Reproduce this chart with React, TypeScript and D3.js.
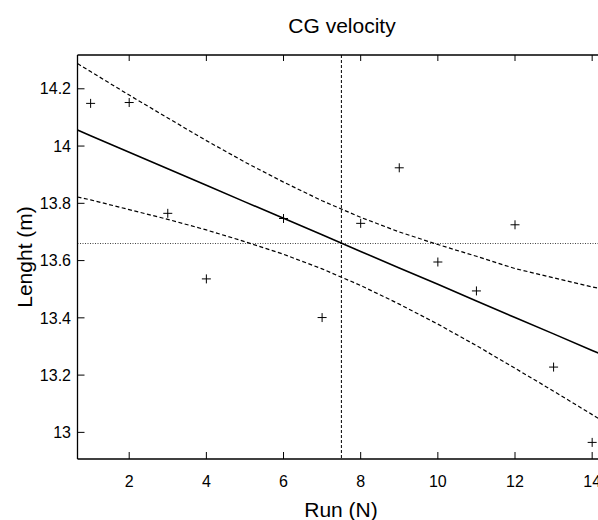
import React from "react";
import * as d3 from "d3";

// Data
const runs = [1, 2, 3, 4, 6, 7, 8, 9, 10, 11, 12, 13, 14];
const lengths = [14.149, 14.152, 13.765, 13.536, 13.747, 13.401, 13.73, 13.924, 13.595, 13.494, 13.725, 13.228, 12.965];

const fitX = [0.66, 1, 2, 3, 4, 5, 6, 7, 8, 9, 10, 11, 12, 13, 14, 14.4];
const fitY = [14.056, 14.036, 13.978, 13.921, 13.863, 13.805, 13.748, 13.69, 13.632, 13.574, 13.517, 13.459, 13.401, 13.344, 13.286, 13.263];
const upperY = [14.288, 14.26, 14.178, 14.098, 14.019, 13.944, 13.874, 13.809, 13.751, 13.7, 13.656, 13.615, 13.572, 13.54, 13.508, 13.497];
const lowerY = [13.822, 13.812, 13.778, 13.744, 13.707, 13.666, 13.622, 13.571, 13.513, 13.448, 13.378, 13.303, 13.224, 13.144, 13.062, 13.029];

const meanRun = 7.5;
const meanLength = 13.661;

const xTicks = [2, 4, 6, 8, 10, 12, 14];
const yTicks = [13, 13.2, 13.4, 13.6, 13.8, 14, 14.2];
const xDomain = [0.66, 14.4];
const yDomain = [12.907, 14.318];

const title = "CG velocity";
const xLabel = "Run (N)";
const yLabel = "Lenght (m)";

export default function App() {
  const W = 598;
  const H = 520;
  const left = 77.5;
  const right = 607.6;
  const top = 55;
  const bottom = 459;
  const font = "'Liberation Sans', Arial, Helvetica, sans-serif";

  const x = d3.scaleLinear().domain(xDomain).range([left, right]);
  const y = d3.scaleLinear().domain(yDomain).range([bottom, top]);

  const line = d3
    .line<number>()
    .x((_, i) => x(fitX[i]))
    .y((d) => y(d));

  const fmt = (v: number) => d3.format("")(+v.toFixed(1));
  const cs = 4.5;
  const yMean = Math.round(y(meanLength)) + 0.5;

  return (
    <svg
      width={W}
      height={H}
      style={{ position: "absolute", left: 0, top: 0, background: "#fff" }}
      fontFamily={font}
    >
      <defs>
        <clipPath id="plotclip">
          <rect x={left} y={top} width={right - left} height={bottom - top} />
        </clipPath>
      </defs>
      <rect x={0} y={0} width={W} height={H} fill="#fff" />

      <g clipPath="url(#plotclip)">
        {/* mean lines */}
        <line
          x1={left}
          x2={right}
          y1={yMean}
          y2={yMean}
          stroke="#444"
          strokeWidth={1}
          strokeDasharray="1,1.5"
        />
        <line
          x1={x(meanRun)}
          x2={x(meanRun)}
          y1={top}
          y2={bottom}
          stroke="#000"
          strokeWidth={1}
          strokeDasharray="3,2"
        />
        {/* confidence bands */}
        <path d={line(upperY) || ""} fill="none" stroke="#000" strokeWidth={1.2} strokeDasharray="4,2.5" />
        <path d={line(lowerY) || ""} fill="none" stroke="#000" strokeWidth={1.2} strokeDasharray="4,2.5" />
        {/* fit */}
        <path d={line(fitY) || ""} fill="none" stroke="#000" strokeWidth={1.6} />
      </g>

      {/* points */}
      {runs.map((r, i) => {
        const px = x(r);
        const py = y(lengths[i]);
        return (
          <g key={i} stroke="#000" strokeWidth={1}>
            <line x1={px - cs} x2={px + cs} y1={py} y2={py} />
            <line x1={px} x2={px} y1={py - cs} y2={py + cs} />
          </g>
        );
      })}

      {/* frame */}
      <line x1={left} x2={right} y1={top} y2={top} stroke="#000" strokeWidth={1.3} />
      <line x1={left} x2={right} y1={bottom} y2={bottom} stroke="#000" strokeWidth={1.3} />
      <line x1={left} x2={left} y1={top} y2={bottom} stroke="#000" strokeWidth={1.3} />

      {/* x ticks */}
      {xTicks.map((t) => (
        <g key={"x" + t}>
          <line x1={x(t)} x2={x(t)} y1={bottom} y2={bottom - 7} stroke="#000" strokeWidth={1} />
          <line x1={x(t)} x2={x(t)} y1={top} y2={top + 6} stroke="#000" strokeWidth={1} />
          <text x={x(t)} y={486.5} textAnchor="middle" fontSize={16} fill="#000">
            {fmt(t)}
          </text>
        </g>
      ))}

      {/* y ticks */}
      {yTicks.map((t) => (
        <g key={"y" + t}>
          <line x1={left} x2={left + 7} y1={y(t)} y2={y(t)} stroke="#000" strokeWidth={1} />
          <text x={71} y={y(t) + 5.7} textAnchor="end" fontSize={16} fill="#000">
            {fmt(t)}
          </text>
        </g>
      ))}

      {/* labels */}
      <text x={342} y={33} textAnchor="middle" fontSize={21} fill="#000">
        {title}
      </text>
      <text x={341} y={517} textAnchor="middle" fontSize={21} fill="#000">
        {xLabel}
      </text>
      <text
        transform={`translate(32, ${(top + bottom) / 2}) rotate(-90)`}
        textAnchor="middle"
        fontSize={21}
        fill="#000"
      >
        {yLabel}
      </text>
    </svg>
  );
}
